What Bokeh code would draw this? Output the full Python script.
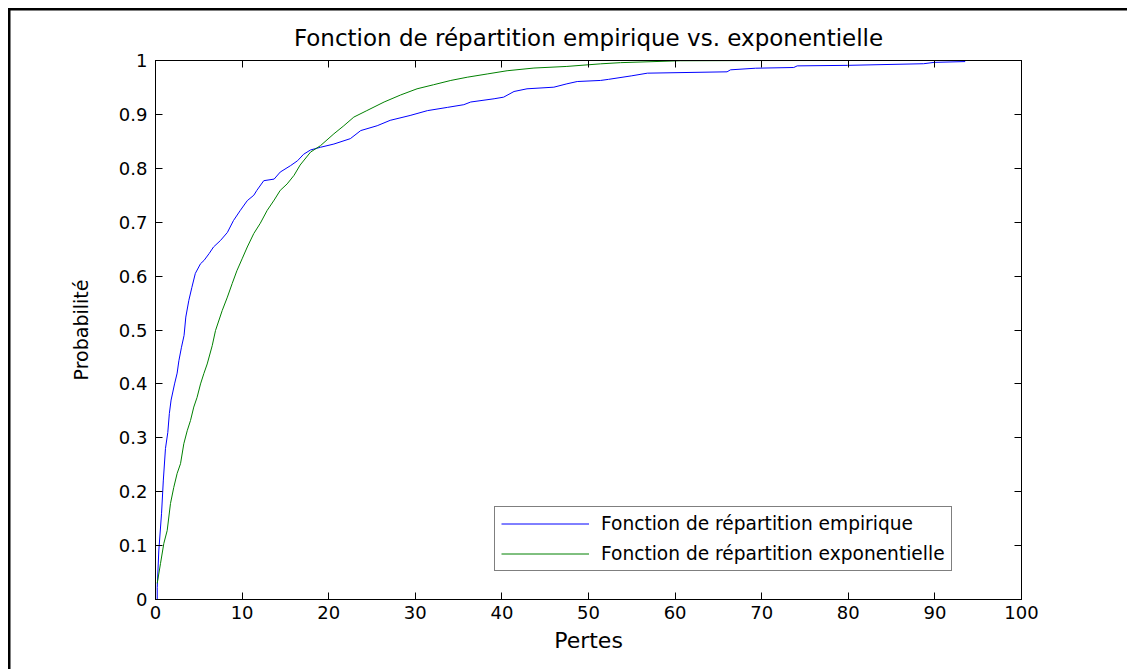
from bokeh.plotting import figure
from bokeh.models import Range1d, FixedTicker, LinearAxis, Legend, LegendItem
from bokeh.embed import file_html
from bokeh.resources import INLINE

# ---- data ----
emp_x = [0.2, 0.2, 0.38, 0.7, 0.9, 1.15, 1.42, 1.6, 1.8, 2.0, 2.2, 2.5, 2.7, 3.0, 3.3, 3.5, 3.85, 4.2,
         4.6, 5.2, 5.6, 6.2, 6.7, 7.5, 8.3, 9.0, 9.8, 10.6, 11.35, 11.7, 12.5, 13.7, 14.4, 15.6, 16.4,
         17.1, 17.9, 19.05, 20.6, 22.5, 23.7, 25.6, 27.1, 29.4, 31.4, 33.7, 35.6, 36.4, 39.1, 40.2,
         41.4, 42.9, 46.0, 47.5, 48.7, 51.4, 52.3, 55.0, 56.8, 66.0, 66.4, 69.3, 73.7, 74.1, 79.9,
         88.7, 89.9, 93.5]
emp_y = [0, 0.022, 0.09, 0.16, 0.22, 0.28, 0.31, 0.345, 0.37, 0.385, 0.40, 0.42, 0.443, 0.468, 0.49,
         0.524, 0.555, 0.579, 0.605, 0.623, 0.629, 0.642, 0.654, 0.666, 0.681, 0.703, 0.722, 0.74,
         0.75, 0.759, 0.777, 0.78, 0.793, 0.805, 0.814, 0.826, 0.834, 0.839, 0.845, 0.855, 0.870,
         0.879, 0.889, 0.898, 0.907, 0.913, 0.918, 0.923, 0.929, 0.932, 0.9425, 0.9475, 0.9505,
         0.9567, 0.961, 0.963, 0.965, 0.9716, 0.9765, 0.979, 0.9827, 0.9857, 0.987, 0.990, 0.991,
         0.994, 0.9965, 0.998]

exp_x = [0.2, 0.58, 0.96, 1.35, 1.73, 2.11, 2.5, 2.89, 3.27, 3.66, 4.04, 4.42, 4.8, 5.2, 5.58, 5.97,
         6.55, 6.93, 7.7, 8.3, 8.85, 9.4, 10.0, 10.6, 11.35, 12.1, 12.9, 13.7, 14.4, 15.2, 16.0, 16.7,
         17.9, 19.05, 20.6, 21.75, 22.9, 24.4, 26.4, 28.3, 30.2, 32.1, 34.1, 36.0, 38.3, 40.6, 43.7,
         47.5, 51.4, 53.7, 60.6, 70.0, 80.0, 97.8]
exp_y = [0.03, 0.067, 0.104, 0.128, 0.178, 0.208, 0.234, 0.252, 0.289, 0.313, 0.332, 0.357, 0.375,
         0.40, 0.419, 0.437, 0.471, 0.499, 0.536, 0.561, 0.586, 0.61, 0.632, 0.654, 0.679, 0.698,
         0.722, 0.741, 0.759, 0.771, 0.787, 0.806, 0.83, 0.842, 0.864, 0.879, 0.895, 0.907, 0.923,
         0.936, 0.9475, 0.955, 0.963, 0.969, 0.975, 0.981, 0.986, 0.989, 0.9938, 0.996, 0.9995,
         0.9999, 1.0, 1.0]

x_ticks = [0, 10, 20, 30, 40, 50, 60, 70, 80, 90, 100]
y_ticks = [0, 0.1, 0.2, 0.3, 0.4, 0.5, 0.6, 0.7, 0.8, 0.9, 1]
y_tick_labels = ["0", "0.1", "0.2", "0.3", "0.4", "0.5", "0.6", "0.7", "0.8", "0.9", "1"]

title_text = "Fonction de répartition empirique vs. exponentielle"
x_label = "Pertes"
y_label = "Probabilité"
legend_labels = ["Fonction de répartition empirique", "Fonction de répartition exponentielle"]

FONT = "DejaVu Sans"

p = figure(width=1127, height=669, output_backend="svg", toolbar_location=None,
           x_range=Range1d(0, 100), y_range=Range1d(0, 1),
           min_border_left=155, min_border_right=106, min_border_top=60, min_border_bottom=70)
p.background_fill_color = "white"
p.border_fill_color = None
p.outline_line_color = "black"
p.outline_line_width = 1
p.xgrid.visible = False
p.ygrid.visible = False
# outer figure frame (left and top edges visible in the window)
p.styles = {
    "background": "linear-gradient(#000, #000) 8px 8px / 2.5px 100% no-repeat, "
                  "linear-gradient(#000, #000) 8px 8px / 100% 2.5px no-repeat, #ffffff",
}

p.title.text = title_text
p.title.align = "center"
p.title.text_font = FONT
p.title.text_font_size = "23px"
p.title.text_font_style = "normal"
p.title.text_color = "black"
p.title.standoff = 19

def style_axis(ax, ticks, labels_visible=True, overrides=None):
    ax.ticker = FixedTicker(ticks=ticks)
    ax.major_tick_in = 7
    ax.major_tick_out = 0
    ax.minor_tick_line_color = None
    ax.axis_line_color = "black"
    ax.major_tick_line_color = "black"
    ax.major_label_text_font = FONT
    ax.major_label_text_font_size = "18px"
    ax.major_label_text_color = "black"
    ax.axis_label_text_font = FONT
    ax.axis_label_text_font_style = "normal"
    ax.axis_label_text_color = "black"
    if overrides:
        ax.major_label_overrides = overrides
    if not labels_visible:
        ax.major_label_text_font_size = "0px"
        ax.major_label_text_alpha = 0

style_axis(p.xaxis[0], x_ticks)
p.xaxis[0].axis_label = x_label
p.xaxis[0].axis_label_text_font_size = "22px"
p.xaxis[0].major_label_standoff = 6
p.xaxis[0].axis_label_standoff = 6

style_axis(p.yaxis[0], y_ticks, overrides={t: l for t, l in zip(y_ticks, y_tick_labels)})
p.yaxis[0].axis_label = y_label
p.yaxis[0].axis_label_text_font_size = "19px"
p.yaxis[0].major_label_standoff = 8
p.yaxis[0].axis_label_standoff = 24

top_ax = LinearAxis()
style_axis(top_ax, x_ticks, labels_visible=False)
p.add_layout(top_ax, "above")
right_ax = LinearAxis()
style_axis(right_ax, y_ticks, labels_visible=False)
p.add_layout(right_ax, "right")

r_emp = p.line(emp_x, emp_y, line_color="#0000FF", line_width=1)
r_exp = p.line(exp_x, exp_y, line_color="#008000", line_width=1)

legend = Legend(items=[LegendItem(label=legend_labels[0], renderers=[r_emp]),
                       LegendItem(label=legend_labels[1], renderers=[r_exp])],
                location=(339, 28))
legend.label_text_font = FONT
legend.label_text_font_size = "18.6px"
legend.label_text_color = "black"
legend.glyph_width = 88
legend.glyph_height = 19
legend.label_height = 19
legend.label_standoff = 12
legend.padding = 6
legend.spacing = 9
legend.margin = 0
legend.border_line_color = "black"
legend.border_line_width = 1
legend.background_fill_color = "white"
legend.background_fill_alpha = 1
p.add_layout(legend, "center")

open("out.html", "w").write(file_html(p, INLINE))
